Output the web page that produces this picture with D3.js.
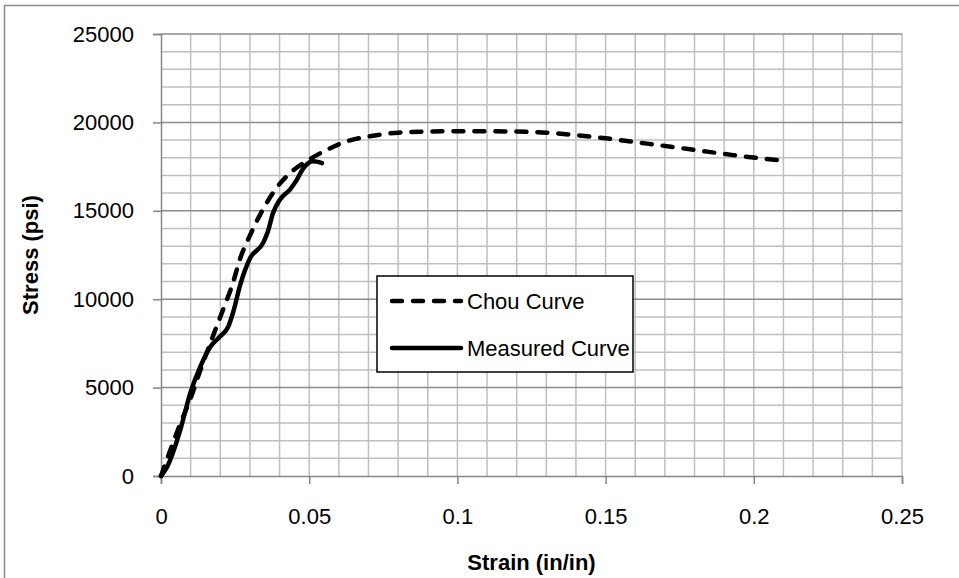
<!DOCTYPE html>
<html>
<head>
<meta charset="utf-8">
<script src="https://cdn.jsdelivr.net/npm/d3@7"></script>
<style>
  body { margin: 0; background: #fff; }
  text { font-family: "Liberation Sans", Arial, sans-serif; }
</style>
</head>
<body>
<div id="chart"></div>
<script>
// Stress-strain chart, Chou curve vs measured

const width = 959;
const height = 578;
const margin = {left: 161, right: 57, top: 34, bottom: 102};

// data
const chouStrain = [0, 0.003, 0.0066, 0.01, 0.0133, 0.0166, 0.02, 0.0244, 0.0267, 0.03, 0.0335, 0.039, 0.0447, 0.05,
  0.056, 0.063, 0.07, 0.08, 0.09, 0.1, 0.11, 0.12, 0.13, 0.14, 0.15, 0.164, 0.1785, 0.193, 0.209];
const chouStress = [0, 1400, 3000, 4400, 6000, 7500, 9000, 11000, 12300, 13600, 14800, 16300, 17300, 17900,
  18450, 18950, 19200, 19420, 19480, 19500, 19500, 19480, 19420, 19280, 19100, 18800, 18480, 18150, 17850];

const measStrain = [0, 0.002, 0.0065, 0.0099, 0.0133, 0.0166, 0.02, 0.0227, 0.0244, 0.0267, 0.03, 0.0345, 0.036,
  0.0378, 0.04, 0.0435, 0.0458, 0.048, 0.0497, 0.0512, 0.0526, 0.0543];
const measStress = [0, 500, 2600, 4700, 6200, 7300, 7900, 8450, 9300, 10800, 12300, 13200, 13800,
  14870, 15600, 16200, 16750, 17400, 17700, 17800, 17780, 17700];

const xTicks = [0, 0.05, 0.1, 0.15, 0.2, 0.25];
const yTicks = [0, 5000, 10000, 15000, 20000, 25000];
const seriesNames = ["Chou Curve", "Measured Curve"];

const svg = d3.select("#chart")
  .append("svg")
  .attr("width", width)
  .attr("height", height);

// outer chart border (cropped on right/bottom)
svg.append("rect")
  .attr("x", 4.5).attr("y", 5.5)
  .attr("width", width + 10).attr("height", height + 10)
  .attr("fill", "#fff")
  .attr("stroke", "#8c8c8c")
  .attr("stroke-width", 1.5);

const x = d3.scaleLinear().domain([0, 0.25]).range([margin.left, width - margin.right]);
const y = d3.scaleLinear().domain([0, 25000]).range([height - margin.bottom, margin.top]);

// minor gridlines
svg.append("g")
  .selectAll("line")
  .data(d3.range(1, 26).map(i => i * 0.01))
  .enter().append("line")
  .attr("x1", d => x(d)).attr("x2", d => x(d))
  .attr("y1", y(0)).attr("y2", y(25000))
  .attr("stroke", "#bfbfbf").attr("stroke-width", 1.5);

svg.append("g")
  .selectAll("line")
  .data(d3.range(1, 26).map(i => i * 1000).filter(d => d % 5000 !== 0))
  .enter().append("line")
  .attr("x1", x(0)).attr("x2", x(0.25))
  .attr("y1", d => y(d)).attr("y2", d => y(d))
  .attr("stroke", "#bfbfbf").attr("stroke-width", 1.5);

// major horizontal gridlines
svg.append("g")
  .selectAll("line")
  .data(yTicks.slice(1))
  .enter().append("line")
  .attr("x1", x(0)).attr("x2", x(0.25))
  .attr("y1", d => y(d)).attr("y2", d => y(d))
  .attr("stroke", "#8c8c8c").attr("stroke-width", 1.5);

// y axis
const yAxis = svg.append("g")
  .attr("transform", `translate(${x(0)},0)`)
  .call(d3.axisLeft(y).tickValues(yTicks).tickSize(8).tickPadding(19).tickFormat(d3.format("d")));
yAxis.selectAll("path, line").attr("stroke", "#868686").attr("stroke-width", 1.5);
yAxis.selectAll("text").attr("font-size", "22px").attr("fill", "#000")
  .attr("font-family", "Liberation Sans, Arial, sans-serif");

// x axis
const xAxis = svg.append("g")
  .attr("transform", `translate(0,${y(0)})`)
  .call(d3.axisBottom(x).tickValues(xTicks).tickSize(8).tickPadding(24).tickFormat(d => d === 0 ? "0" : String(d)));
xAxis.selectAll("path, line").attr("stroke", "#868686").attr("stroke-width", 1.5);
xAxis.selectAll("text").attr("font-size", "22px").attr("fill", "#000")
  .attr("font-family", "Liberation Sans, Arial, sans-serif");

// axis titles
svg.append("text")
  .attr("transform", `translate(38,${(y(0) + y(25000)) / 2}) rotate(-90)`)
  .attr("text-anchor", "middle")
  .attr("font-size", "22px")
  .attr("font-weight", "bold")
  .text("Stress (psi)");

svg.append("text")
  .attr("x", (x(0) + x(0.25)) / 2)
  .attr("y", 570)
  .attr("text-anchor", "middle")
  .attr("font-size", "22px")
  .attr("font-weight", "bold")
  .text("Strain (in/in)");

// curves
const line = d3.line()
  .x(d => x(d[0]))
  .y(d => y(d[1]))
  .curve(d3.curveMonotoneX);

const chou = chouStrain.map((s, i) => [s, chouStress[i]]);
const meas = measStrain.map((s, i) => [s, measStress[i]]);

svg.append("path")
  .datum(meas)
  .attr("d", line)
  .attr("fill", "none")
  .attr("stroke", "#000")
  .attr("stroke-width", 4.5)
  .attr("stroke-linejoin", "round")
  .attr("stroke-linecap", "round");

svg.append("path")
  .datum(chou)
  .attr("d", line)
  .attr("fill", "none")
  .attr("stroke", "#000")
  .attr("stroke-width", 4.5)
  .attr("stroke-dasharray", "10,11")
  .attr("stroke-linecap", "round");

// legend
const legend = svg.append("g").attr("transform", "translate(377,276)");
legend.append("rect")
  .attr("width", 256).attr("height", 96)
  .attr("fill", "#fff")
  .attr("stroke", "#000")
  .attr("stroke-width", 1.5);

seriesNames.forEach((name, i) => {
  const ly = 25 + i * 47;
  legend.append("line")
    .attr("x1", 15).attr("x2", 84)
    .attr("y1", ly).attr("y2", ly)
    .attr("stroke", "#000")
    .attr("stroke-width", 4.5)
    .attr("stroke-linecap", "round")
    .attr("stroke-dasharray", i === 0 ? "10,11" : null);
  legend.append("text")
    .attr("x", 90).attr("y", ly)
    .attr("dy", "0.35em")
    .attr("font-size", "22px")
    .text(name);
});
</script>
</body>
</html>
